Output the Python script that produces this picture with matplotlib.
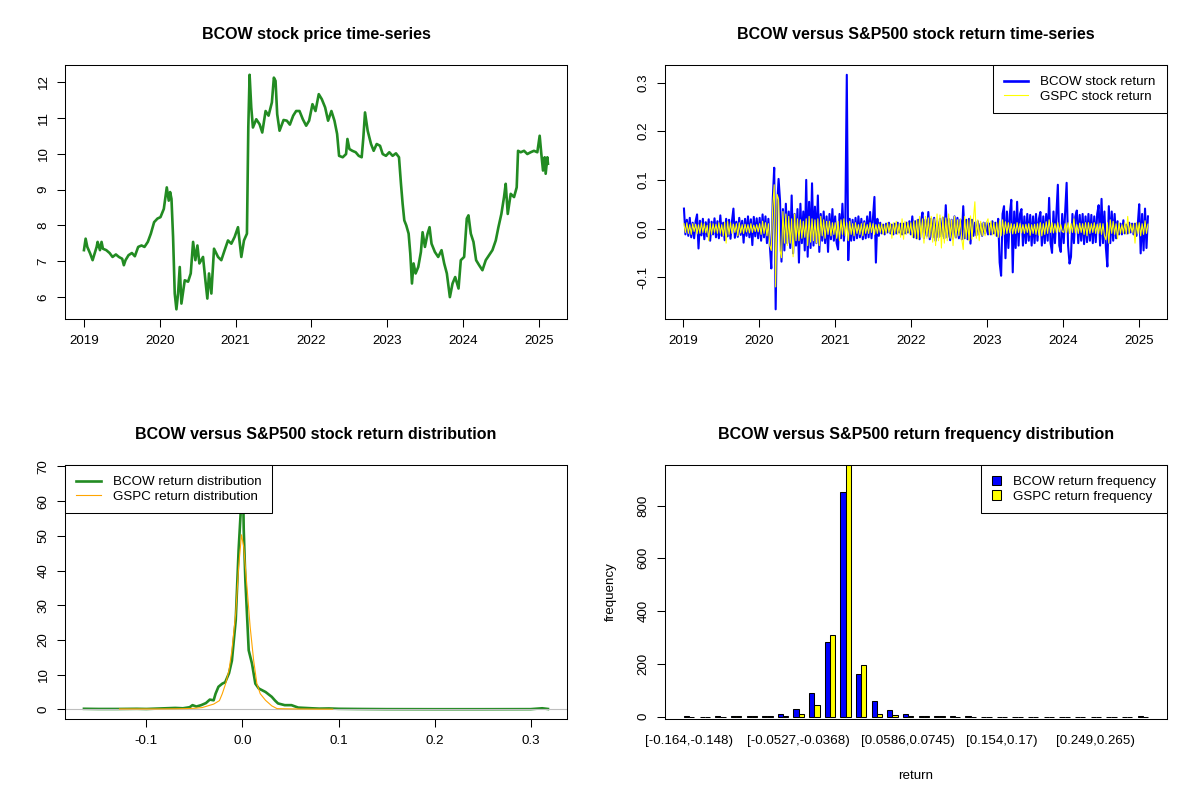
import matplotlib
matplotlib.use('Agg')
import matplotlib.pyplot as plt
import numpy as np
import pandas as pd
from matplotlib.lines import Line2D
from matplotlib.patches import Patch

plt.rcParams['font.family'] = ['Liberation Sans', 'DejaVu Sans']

# ---------------- data ----------------
# BCOW closing price (decimal year, price)
price_t = [2019.000, 2019.022, 2019.044, 2019.083, 2019.114, 2019.127, 2019.167, 2019.180, 2019.211, 2019.232,
           2019.250, 2019.294, 2019.338, 2019.377, 2019.421, 2019.461, 2019.504, 2019.526, 2019.548, 2019.588,
           2019.632, 2019.671, 2019.715, 2019.759, 2019.798, 2019.842, 2019.882, 2019.925, 2019.969,
           2020.009, 2020.053, 2020.092, 2020.118, 2020.136, 2020.154, 2020.175, 2020.197, 2020.219, 2020.241,
           2020.263, 2020.285, 2020.329, 2020.373, 2020.408, 2020.439, 2020.469, 2020.496, 2020.522, 2020.570,
           2020.601, 2020.627, 2020.649, 2020.680, 2020.715, 2020.768, 2020.811, 2020.855, 2020.899, 2020.943,
           2020.987,
           2021.031, 2021.075, 2021.110, 2021.149, 2021.167, 2021.184, 2021.206, 2021.228, 2021.272, 2021.316,
           2021.351, 2021.395, 2021.434, 2021.478, 2021.504, 2021.526, 2021.548, 2021.579, 2021.632, 2021.675,
           2021.715, 2021.759, 2021.798, 2021.842, 2021.886, 2021.930, 2021.969,
           2022.013, 2022.053, 2022.096, 2022.136, 2022.180, 2022.219, 2022.263, 2022.303, 2022.338, 2022.364,
           2022.412, 2022.456, 2022.474, 2022.500, 2022.539, 2022.583, 2022.623, 2022.662, 2022.684, 2022.706,
           2022.741, 2022.785, 2022.820, 2022.860, 2022.904, 2022.939, 2022.982,
           2023.026, 2023.070, 2023.114, 2023.154, 2023.180, 2023.202, 2023.224, 2023.250, 2023.281, 2023.303,
           2023.325, 2023.346, 2023.373, 2023.408, 2023.443, 2023.465, 2023.496, 2023.531, 2023.557, 2023.583,
           2023.627, 2023.671, 2023.715, 2023.750, 2023.785, 2023.825, 2023.860, 2023.895, 2023.939, 2023.969,
           2024.013, 2024.048, 2024.070, 2024.101, 2024.136, 2024.171, 2024.211, 2024.254, 2024.298, 2024.342,
           2024.386, 2024.430, 2024.465, 2024.504, 2024.539, 2024.561, 2024.588, 2024.627, 2024.671, 2024.706,
           2024.724, 2024.759, 2024.803, 2024.846, 2024.890, 2024.934, 2024.978,
           2025.009, 2025.031, 2025.053, 2025.075, 2025.088, 2025.110, 2025.118]
price = [7.31, 7.63, 7.40, 7.21, 7.03, 7.12, 7.40, 7.54, 7.31, 7.54,
         7.35, 7.31, 7.23, 7.12, 7.19, 7.12, 7.07, 6.89, 7.03, 7.17,
         7.23, 7.14, 7.40, 7.44, 7.40, 7.54, 7.77, 8.09, 8.19,
         8.23, 8.46, 9.06, 8.69, 8.93, 8.74, 7.68, 6.10, 5.66, 6.10,
         6.84, 5.82, 6.47, 6.43, 6.66, 7.54, 7.03, 7.44, 6.94, 7.12,
         6.47, 5.96, 6.66, 6.10, 7.35, 7.12, 7.03, 7.31, 7.58, 7.49,
         7.68,
         7.95, 7.12, 7.58, 7.77, 10.73, 12.20, 11.29, 10.73, 10.96, 10.82,
         10.59, 11.19, 11.06, 11.43, 12.12, 12.03, 11.10, 10.64, 10.94, 10.92,
         10.81, 11.06, 11.19, 11.19, 10.96, 10.78, 10.92,
         11.38, 11.19, 11.66, 11.52, 11.29, 10.92, 11.19, 10.92, 10.55, 9.94,
         9.90, 9.99, 10.41, 10.13, 10.08, 10.04, 9.94, 9.90, 10.45, 11.15,
         10.64, 10.27, 10.08, 10.27, 10.22, 9.99, 9.94,
         10.04, 9.94, 10.01, 9.90, 9.16, 8.60, 8.14, 8.00, 7.77, 7.21,
         6.38, 6.94, 6.66, 6.84, 7.26, 7.81, 7.40, 7.77, 7.95, 7.49,
         7.26, 7.12, 7.31, 6.94, 6.66, 6.00, 6.38, 6.56, 6.24, 7.03,
         7.12, 8.19, 8.28, 7.77, 7.54, 7.03, 6.89, 6.75, 7.03, 7.17,
         7.31, 7.58, 7.95, 8.32, 8.79, 9.16, 8.32, 8.88, 8.79, 9.06,
         10.08, 10.04, 10.08, 9.99, 10.04, 10.08, 10.04,
         10.50, 9.99, 9.53, 9.90, 9.44, 9.90, 9.72]

# Weekly return envelope (one value per week from 2019-01-04)
ret_start = '2019-01-04'
bcow_ret = [
    # 2019
    0.041, -0.012, 0.018, -0.015, 0.022, -0.018, 0.012, -0.020, 0.015, 0.029, -0.041, 0.016, -0.014,
    0.020, -0.022, 0.013, -0.016, 0.019, -0.025, 0.014, -0.012, 0.021, -0.018, 0.015, -0.020, 0.027,
    -0.015, 0.012, -0.024, 0.020, -0.016, 0.018, -0.021, 0.015, 0.041, -0.019, 0.014, -0.017, 0.022,
    -0.013, 0.016, -0.029, 0.020, -0.015, 0.025, -0.018, 0.019, -0.034, 0.024, -0.016, 0.021, -0.020,
    # 2020
    0.022, -0.025, 0.029, -0.018, 0.025, -0.030, 0.020, -0.035, -0.082, 0.060, 0.125, -0.166, 0.045,
    0.102, 0.058, -0.068, 0.040, -0.045, 0.051, -0.030, 0.035, -0.040, 0.068, -0.051, 0.030, -0.035,
    0.040, -0.070, 0.051, -0.030, 0.035, -0.045, 0.100, -0.058, 0.055, -0.040, 0.093, -0.035, 0.045,
    -0.030, 0.068, -0.048, 0.030, -0.025, 0.035, -0.030, 0.025, -0.048, 0.030, -0.022, 0.040, -0.025,
    # 2021
    0.025, -0.030, -0.043, 0.030, -0.020, 0.051, -0.025, 0.020, 0.316, -0.065, 0.020, -0.025, 0.018,
    -0.024, 0.022, -0.020, 0.025, -0.018, 0.020, -0.022, 0.015, -0.020, 0.025, -0.018, 0.034, -0.020,
    0.022, 0.065, -0.070, 0.020, -0.015, 0.012, -0.010, 0.008, -0.012, 0.010, -0.008, 0.012, -0.010,
    0.008, -0.012, 0.010, -0.010, 0.012, -0.008, 0.010, -0.012, 0.010, -0.010, 0.012, -0.008, 0.015, -0.012,
    # 2022
    0.025, -0.018, 0.015, -0.020, 0.018, -0.022, 0.016, 0.033, -0.020, 0.018, -0.015, 0.034, -0.022,
    0.020, -0.018, 0.022, -0.025, 0.015, -0.018, 0.020, -0.016, 0.022, -0.020, 0.048, -0.018, 0.020,
    -0.024, 0.018, -0.020, 0.025, -0.018, 0.022, -0.020, 0.018, -0.022, 0.046, -0.020, 0.018, -0.022,
    0.020, -0.031, 0.018, -0.015, 0.012, -0.014, 0.015, -0.012, 0.010, -0.015, 0.012, -0.010, 0.012,
    # 2023
    -0.012, 0.010, -0.012, 0.015, -0.010, 0.012, -0.015, 0.020, -0.070, -0.097, 0.030, 0.046, -0.061,
    0.035, -0.040, 0.030, 0.059, -0.090, 0.035, -0.040, 0.055, -0.035, 0.030, 0.040, -0.035, 0.025,
    -0.030, 0.030, -0.025, 0.028, -0.035, 0.025, -0.030, 0.030, -0.025, 0.020, 0.034, -0.035, 0.025,
    -0.030, 0.030, -0.025, 0.063, -0.030, -0.050, 0.035, -0.030, 0.030, 0.090, -0.035, -0.048, 0.030,
    # 2024
    -0.030, 0.035, 0.094, -0.035, -0.072, -0.058, 0.030, -0.030, 0.025, 0.037, -0.030, 0.028, -0.025,
    0.030, -0.032, 0.025, -0.028, 0.030, -0.025, 0.028, -0.030, 0.025, -0.028, 0.030, 0.048, -0.035,
    0.061, -0.030, 0.035, -0.040, -0.078, 0.046, -0.030, 0.035, -0.025, 0.030, -0.020, 0.015, -0.012,
    0.010, -0.012, 0.017, -0.010, 0.008, -0.010, 0.012, -0.008, 0.010, -0.012, 0.010, -0.015, 0.012,
    # 2025
    0.050, -0.051, 0.030, -0.045, 0.041, -0.040, 0.025]
gspc_ret = [
    # 2019
    0.010, -0.008, 0.012, -0.010, 0.008, -0.012, 0.010, -0.006, 0.009, -0.011, 0.008, -0.010, 0.012,
    -0.008, 0.010, -0.009, 0.007, -0.025, 0.011, -0.012, 0.010, -0.008, 0.009, -0.010, 0.012, -0.010,
    0.008, -0.015, 0.013, -0.030, 0.015, -0.012, 0.012, -0.010, 0.009, -0.008, 0.010, -0.015, 0.012,
    -0.009, 0.008, -0.010, 0.009, -0.007, 0.008, -0.009, 0.010, -0.008, 0.007, -0.006, 0.008, -0.007,
    # 2020
    0.010, -0.012, 0.015, -0.010, 0.012, -0.015, 0.010, -0.035, -0.045, 0.045, 0.090, -0.120, 0.070,
    0.060, -0.045, -0.060, 0.035, -0.030, 0.030, -0.035, 0.025, -0.030, 0.020, -0.058, 0.030, -0.025,
    0.020, -0.025, 0.018, -0.020, 0.015, -0.018, 0.020, -0.035, 0.025, -0.028, 0.020, -0.025, 0.018,
    -0.030, 0.020, -0.035, 0.025, -0.015, 0.018, -0.020, 0.015, -0.012, 0.015, -0.015, 0.012, -0.012,
    # 2021
    0.012, -0.020, 0.015, -0.025, 0.018, -0.012, 0.020, -0.015, 0.012, -0.025, 0.015, -0.012, 0.010,
    -0.015, 0.012, -0.010, 0.008, -0.012, 0.010, -0.015, 0.012, -0.010, 0.008, -0.010, 0.012, -0.008,
    0.010, -0.012, 0.008, -0.010, 0.009, -0.008, 0.010, -0.012, 0.008, -0.010, 0.012, -0.008, 0.010,
    -0.020, 0.012, -0.010, 0.015, -0.012, 0.010, -0.018, 0.020, -0.022, 0.015, -0.012, 0.013, -0.010, 0.012,
    # 2022
    -0.018, 0.015, -0.020, 0.018, -0.022, 0.025, -0.018, 0.020, -0.030, 0.025, -0.020, 0.022, -0.018,
    0.025, -0.028, 0.020, -0.035, 0.030, -0.025, 0.028, -0.040, 0.025, -0.030, 0.022, -0.025, 0.030,
    -0.020, 0.018, -0.035, 0.025, -0.020, 0.018, -0.015, 0.020, -0.022, -0.043, 0.025, -0.020, 0.018,
    -0.025, 0.026, -0.022, 0.020, 0.055, -0.020, 0.018, -0.025, 0.015, -0.015, 0.012, -0.015, 0.013,
    # 2023
    0.020, -0.012, 0.015, -0.013, 0.012, -0.015, 0.012, -0.018, 0.016, -0.015, 0.018, -0.012, 0.014,
    -0.010, 0.012, -0.009, 0.010, -0.011, 0.009, -0.010, 0.012, -0.008, 0.010, -0.009, 0.008, -0.010,
    0.009, -0.008, 0.010, -0.014, 0.008, -0.010, 0.009, -0.012, 0.010, -0.014, 0.012, -0.015, 0.010,
    -0.012, 0.014, -0.010, 0.018, -0.008, 0.012, -0.009, 0.010, -0.008, 0.012, -0.007, 0.008, -0.006,
    # 2024
    -0.008, 0.010, -0.008, 0.012, -0.010, 0.010, -0.008, 0.020, -0.009, 0.008, -0.010, 0.011, -0.008,
    0.010, -0.012, 0.012, -0.015, 0.012, -0.010, 0.010, -0.008, 0.012, -0.010, 0.009, -0.010, 0.011,
    -0.012, 0.010, -0.015, -0.023, 0.012, -0.030, 0.018, -0.010, 0.015, -0.012, 0.010, -0.021, 0.012,
    -0.010, 0.008, -0.010, 0.012, -0.012, 0.025, -0.010, 0.009, -0.008, 0.010, -0.030, 0.012, -0.010,
    # 2025
    0.012, -0.015, 0.010, -0.012, 0.016, -0.010, 0.009]

# Kernel density curves (return, density)
bcow_dens_x = [-0.165, -0.150, -0.130, -0.110, -0.100, -0.090, -0.080, -0.070, -0.062, -0.055, -0.052,
               -0.048, -0.043, -0.038, -0.034, -0.030, -0.028, -0.025, -0.021, -0.018, -0.014, -0.011,
               -0.007, -0.004, -0.002, -0.0005, 0.0005, 0.0013, 0.003, 0.0065, 0.0099, 0.0134, 0.017,
               0.024, 0.0305, 0.034, 0.037, 0.044, 0.051, 0.058, 0.065, 0.072, 0.080, 0.090, 0.100,
               0.120, 0.150, 0.200, 0.250, 0.300, 0.312, 0.318]
bcow_dens_y = [0.15, 0.10, 0.10, 0.15, 0.10, 0.20, 0.30, 0.40, 0.30, 0.60, 1.20,
               0.80, 1.20, 1.80, 2.80, 2.60, 4.50, 6.50, 7.40, 7.80, 10.4, 14.0,
               25.7, 46.0, 56.0, 67.6, 67.0, 52.0, 37.3, 17.0, 13.2, 7.40, 6.00,
               5.00, 3.60, 2.50, 1.70, 1.20, 1.20, 0.50, 0.40, 0.30, 0.20, 0.25, 0.15,
               0.10, 0.05, 0.03, 0.03, 0.05, 0.30, 0.10]
gspc_dens_x = [-0.128, -0.110, -0.090, -0.070, -0.060, -0.050, -0.042, -0.036, -0.030, -0.024, -0.021,
               -0.0175, -0.014, -0.011, -0.007, -0.004, -0.001, 0.0013, 0.0047, 0.008, 0.0116, 0.015,
               0.0185, 0.024, 0.0305, 0.036, 0.045, 0.060, 0.080, 0.094]
gspc_dens_y = [0.10, 0.10, 0.10, 0.15, 0.20, 0.30, 0.50, 1.00, 1.50, 2.50, 4.50,
               7.40, 11.3, 17.0, 27.7, 41.0, 50.3, 46.9, 35.3, 23.8, 14.2, 7.40,
               4.50, 2.60, 1.00, 0.20, 0.15, 0.10, 0.05, 0.05]

# Return frequency histogram (30 bins)
bcow_counts = [2, 0, 1, 2, 2, 4, 11, 30, 88, 283, 850, 160, 60, 24, 11, 4, 3, 3, 3, 0,
               0, 0, 0, 0, 0, 0, 0, 0, 0, 1]
gspc_counts = [0, 0, 0, 1, 2, 2, 3, 9, 46, 309, 952, 196, 11, 5, 3, 2, 1, 0, 0, 0,
               0, 0, 0, 0, 0, 0, 0, 0, 0, 0]
hist_label_bins = [0, 7, 14, 20, 26]
hist_labels = ['[-0.164,-0.148)', '[-0.0527,-0.0368)', '[0.0586,0.0745)', '[0.154,0.17)', '[0.249,0.265)']

year_ticks = [2019, 2020, 2021, 2022, 2023, 2024, 2025]

# ---------------- figure ----------------
W, H = 1200, 800
fig = plt.figure(figsize=(12, 8), dpi=100)


def rect(l, t, r, b):
    return [l / W, 1 - b / H, (r - l) / W, (b - t) / H]


ax1 = fig.add_axes(rect(65.4, 65.4, 566.5, 318.7))
ax2 = fig.add_axes(rect(665.4, 65.4, 1166.5, 318.7))
ax3 = fig.add_axes(rect(65.4, 465.4, 566.5, 718.7))
ax4 = fig.add_axes(rect(665.4, 465.4, 1166.5, 718.7))

FS = 9.6
TFS = 11.5


def style(ax, xpad=5.9, xlen=6):
    for s in ax.spines.values():
        s.set_linewidth(0.75)
        s.set_color('black')
    ax.tick_params(direction='out', width=0.75, labelsize=FS, colors='black')
    ax.tick_params(axis='x', pad=xpad, length=xlen)
    ax.tick_params(axis='y', pad=5.3, length=6, labelrotation=90)
    plt.setp(ax.get_yticklabels(), va='center')


def title(ax, s):
    ax.text(0.5, 1 + 31 / 253.3, s, transform=ax.transAxes, ha='center', va='center',
            fontsize=TFS, fontweight='bold')


def legend(ax, handles, labels, loc, hl=1.85, hh=0.7, htp=0.9):
    leg = ax.legend(handles, labels, loc=loc, borderaxespad=0, frameon=True, fancybox=False,
                    edgecolor='black', framealpha=1, fontsize=FS, handlelength=hl,
                    handleheight=hh, handletextpad=htp, borderpad=0.8, labelspacing=0.15)
    leg.get_frame().set_linewidth(0.75)
    return leg


def to_year(dates):
    return dates.year + (dates.dayofyear - 1) / 365.25


# Panel 1: price
ax1.plot(price_t, price, color='#228B22', lw=1.9)
ax1.margins(x=0.04, y=0.04)
ax1.set_xticks(year_ticks)
ax1.set_xticklabels([str(y) for y in year_ticks])
ax1.set_yticks([6, 7, 8, 9, 10, 11, 12])
style(ax1)
title(ax1, 'BCOW stock price time-series')

# Panel 2: returns
bcow_t = to_year(pd.date_range(ret_start, periods=len(bcow_ret), freq='W-FRI'))
gspc_t = to_year(pd.date_range(ret_start, periods=len(gspc_ret), freq='W-FRI'))
ax2.plot(bcow_t, bcow_ret, color='blue', lw=1.5)
ax2.plot(gspc_t, gspc_ret, color='yellow', lw=0.8)
ax2.margins(x=0.04, y=0.04)
ax2.set_xticks(year_ticks)
ax2.set_xticklabels([str(y) for y in year_ticks])
ax2.set_yticks([-0.1, 0.0, 0.1, 0.2, 0.3])
ax2.set_yticklabels(['-0.1', '0.0', '0.1', '0.2', '0.3'])
style(ax2)
title(ax2, 'BCOW versus S&P500 stock return time-series')
legend(ax2, [Line2D([], [], color='blue', lw=1.9), Line2D([], [], color='yellow', lw=0.8)],
       ['BCOW stock return', 'GSPC stock return'], 'upper right')

# Panel 3: density
ax3.plot(bcow_dens_x, bcow_dens_y, color='#228B22', lw=1.9)
ax3.axhline(0, color='#BEBEBE', lw=0.8)
ax3.plot(gspc_dens_x, gspc_dens_y, color='orange', lw=0.8)
ax3.margins(x=0.04, y=0.04)
ax3.set_xticks([-0.1, 0.0, 0.1, 0.2, 0.3])
ax3.set_xticklabels(['-0.1', '0.0', '0.1', '0.2', '0.3'])
ax3.set_yticks([0, 10, 20, 30, 40, 50, 60, 70])
style(ax3)
title(ax3, 'BCOW versus S&P500 stock return distribution')
legend(ax3, [Line2D([], [], color='#228B22', lw=1.9), Line2D([], [], color='orange', lw=0.8)],
       ['BCOW return distribution', 'GSPC return distribution'], 'upper left')

# Panel 4: histogram
nb = len(bcow_counts)
grp = np.arange(nb)
ax4.bar(3 * grp + 1, bcow_counts, width=1, align='edge', color='blue', edgecolor='black', lw=0.75)
ax4.bar(3 * grp + 2, gspc_counts, width=1, align='edge', color='yellow', edgecolor='black', lw=0.75)
span = 3 * nb - 1
ax4.set_xlim(1 - 0.04 * span, 3 * nb + 0.04 * span)
ax4.set_ylim(-7.6, 952)
ax4.set_xticks([3 * g + 2 for g in hist_label_bins])
ax4.set_xticklabels(hist_labels)
ax4.set_yticks([0, 200, 400, 600, 800])
style(ax4, xpad=11.9, xlen=0)
title(ax4, 'BCOW versus S&P500 return frequency distribution')
ax4.text(-0.1086, 0.5, 'frequency', transform=ax4.transAxes, rotation=90, ha='center', va='center',
         fontsize=FS)
ax4.text(0.5, -0.226, 'return', transform=ax4.transAxes, ha='center', va='center', fontsize=FS)
legend(ax4, [Patch(facecolor='blue', edgecolor='black', lw=0.75),
             Patch(facecolor='yellow', edgecolor='black', lw=0.75)],
       ['BCOW return frequency', 'GSPC return frequency'], 'upper right', hl=0.7, hh=0.7, htp=0.9)

fig.savefig('out.png', dpi=100, facecolor='white')
